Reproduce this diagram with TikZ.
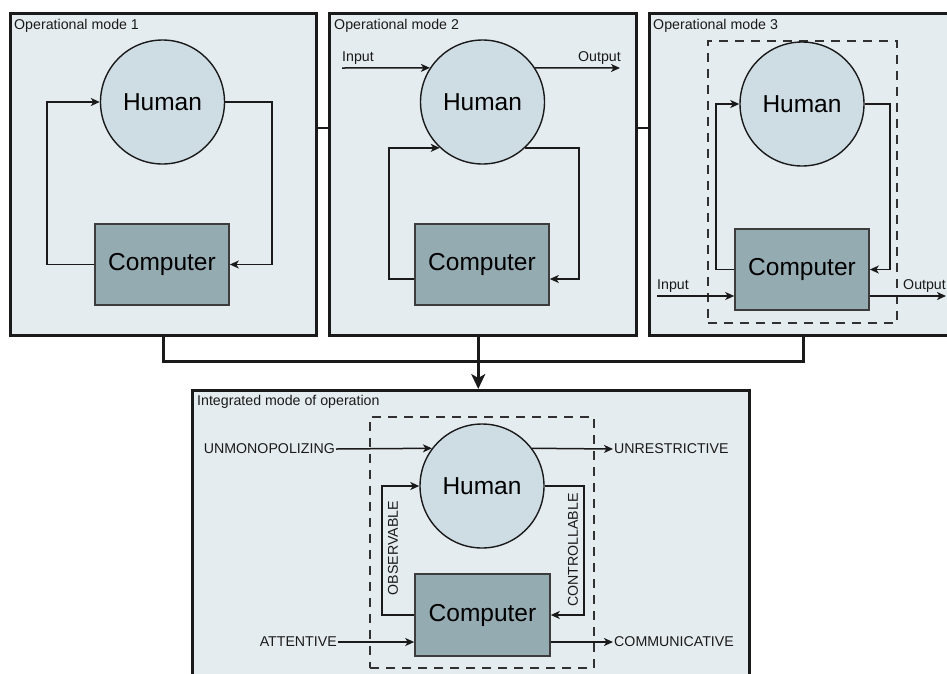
\documentclass[tikz,border=0pt]{standalone}
\usepackage{fontspec}
\setmainfont{Liberation Sans}
\usetikzlibrary{arrows.meta,calc}
\definecolor{panelbg}{HTML}{E5ECF0}
\definecolor{humanfill}{HTML}{CEDCE3}
\definecolor{compfill}{HTML}{95ABB2}
\definecolor{ink}{HTML}{1A1A1A}
\tikzset{
  panel/.style={draw=ink, fill=panelbg, line width=2.5pt, rectangle, anchor=north west, inner sep=0},
  dbox/.style={draw=ink!90, line width=1.5pt, dash pattern=on 9pt off 7pt, rectangle, anchor=north west, inner sep=0},
  human/.style={circle, draw=ink, fill=humanfill, line width=1.4pt, minimum size=124pt, inner sep=0, font=\fontsize{24.5}{28}\selectfont},
  comp/.style={rectangle, draw=ink!85, fill=compfill, line width=1.6pt, minimum width=134pt, minimum height=81pt, inner sep=0, font=\fontsize{24.5}{28}\selectfont},
  lbl/.style={font=\fontsize{14.2}{16}\selectfont, text=ink, inner sep=1pt},
  ttl/.style={font=\fontsize{14.2}{16}\selectfont, text=ink, inner sep=0, anchor=base west},
  arr/.style={draw=ink, line width=1.5pt, -{Stealth[length=9pt,width=8pt,inset=2.5pt]}},
  conn/.style={draw=ink, line width=2.6pt},
}
\begin{document}
\begin{tikzpicture}[x=1pt,y=-1pt]
\clip (0,0) rectangle (947,673);
\fill[white] (0,0) rectangle (947,673);

% panels
\node[panel, minimum width=306pt, minimum height=322pt] (p1) at (9,12) {};
\node[panel, minimum width=307pt, minimum height=322pt] (p2) at (328,12) {};
\node[panel, minimum width=308pt, minimum height=322pt] (p3) at (648,12) {};
\node[panel, minimum width=557pt, minimum height=320pt] (p4) at (191,389) {};

\node[ttl] (t1) at (14,29.5) {Operational mode 1};
\node[ttl] (t2) at (334,29.5) {Operational mode 2};
\node[ttl] (t3) at (653,29.5) {Operational mode 3};
\node[ttl] (t4) at (197,405) {Integrated mode of operation};

% panel connectors
\draw[conn] ([yshift=-116pt]p1.north east) -- ([yshift=-116pt]p2.north west);
\draw[conn] ([yshift=-116pt]p2.north east) -- ([yshift=-116pt]p3.north west);
\draw[conn] (p1.south) -- ++(0,25) -| (p3.south);
\draw[conn, -{Stealth[length=15pt,width=14pt,inset=4pt]}] ([xshift=-4.5pt]p2.south) -- ([xshift=-4.5pt]p2.south |- p4.north);

% dashed boxes
\node[dbox, minimum width=189pt, minimum height=282pt] (d3) at (707,40) {};
\node[dbox, minimum width=224pt, minimum height=251pt] (d4) at (369,416) {};

% ---------- Panel 1
\node[human] (h1) at (162.5,102) {Human};
\node[comp] (c1) at (162,264.5) {Computer};
\draw[arr] (c1.west) -- ++(-47,0) |- (h1.west);
\draw[arr] (h1.east) -| ([xshift=42pt]c1.east) -- (c1.east);

% ---------- Panel 2
\node[human] (h2) at (482.5,102) {Human};
\node[comp] (c2) at (482,264.5) {Computer};
\draw[arr] ([yshift=-14.5pt]c2.west) -- ++(-25,0) |- (h2.227);
\draw[arr] (h2.313) -| ([xshift=29pt,yshift=-14.5pt]c2.east) -- ([yshift=-14.5pt]c2.east);
\node[lbl, anchor=base west] (in2) at (341,61) {Input};
\node[lbl, anchor=base east] (out2) at (622,61) {Output};
\coordinate (in2s) at (342,68);
\coordinate (out2e) at (620,68);
\draw[arr] (in2s) -- (h2.147);
\draw[arr] (h2.33) -- (out2e);

% ---------- Panel 3
\node[human] (h3) at (802,104) {Human};
\node[comp] (c3) at (802,269.5) {Computer};
\draw[arr] (c3.west) -- ++(-18,0) |- (h3.west);
\draw[arr] (h3.east) -| ([xshift=20pt]c3.east) -- (c3.east);
\node[lbl, anchor=base west] (in3) at (656,289) {Input};
\node[lbl, anchor=base west] (out3) at (902,289) {Output};
\coordinate (in3s) at (657,296);
\draw[arr] (in3s) -- (in3s -| c3.west);
\coordinate (out3e) at (946,296);
\draw[arr] (out3e -| c3.east) -- (out3e);

% ---------- Integrated
\node[human] (h4) at (482,486) {Human};
\node[comp, minimum width=135pt, minimum height=82pt] (c4) at (482.5,615) {Computer};
\draw[arr] (c4.west) -- ++(-32,0) |- (h4.west);
\draw[arr] (h4.east) -| ([xshift=33pt]c4.east) -- (c4.east);
\node[lbl, rotate=90] (obs) at (393,548) {OBSERVABLE};
\node[lbl, rotate=90] (ctl) at (573,550) {CONTROLLABLE};

\node[lbl, anchor=east] (unm) at (336,449) {UNMONOPOLIZING};
\node[lbl, anchor=west] (unr) at (613,449) {UNRESTRICTIVE};
\node[lbl, anchor=east] (att) at (338,642) {ATTENTIVE};
\node[lbl, anchor=west] (com) at (613,642) {COMMUNICATIVE};
\draw[arr] (unm.east) -- (h4.143);
\draw[arr] (h4.37) -- (unr.west);
\draw[arr] (att.east) -- (att.east -| c4.west);
\draw[arr] (com.west -| c4.east) -- (com.west);
\end{tikzpicture}
\end{document}
